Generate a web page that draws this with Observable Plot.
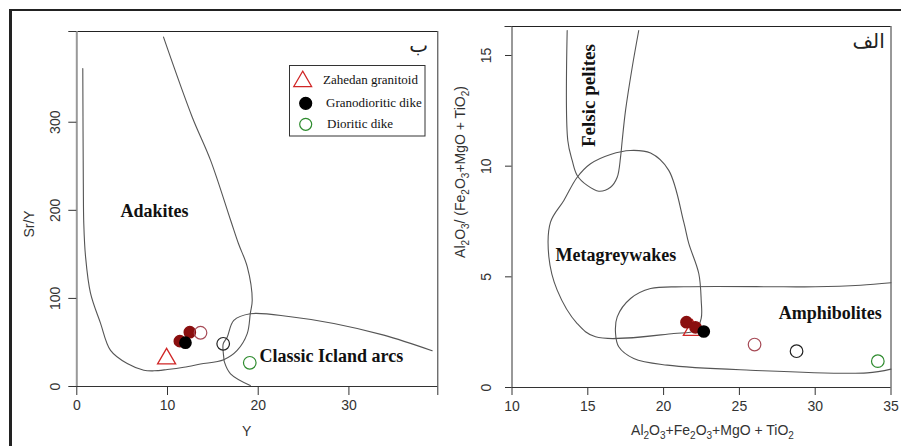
<!DOCTYPE html>
<html><head><meta charset="utf-8">
<script src="https://cdn.jsdelivr.net/npm/d3@7"></script>
<script src="https://cdn.jsdelivr.net/npm/@observablehq/plot@0.6"></script>
<style>
html,body{margin:0;padding:0;background:#fff;}
#fig{position:relative;width:901px;height:446px;overflow:hidden;background:#fff;}
#fig svg{position:absolute;top:0;}
#border{position:absolute;left:9px;top:9px;width:900px;height:445px;border-top:2px solid #222;border-left:3px solid #222;pointer-events:none;}
</style></head><body>
<div id="fig"><div id="border"></div></div>
<script>
// ---------- sample data ----------
const sampleNames = ["Zahedan granitoid","Granodioritic dike 1","Granodioritic dike 2","Granodioritic dike 3","Dioritic dike 1","Dioritic dike 2","Dioritic dike 3"];
const sampleY      = [9.9, 11.36, 12.46, 11.98, 13.64, 16.14, 19.07];      // Y (ppm)
const sampleSrY    = [31.5, 51.5, 61.7, 49.7, 61, 48.5, 26.9];             // Sr/Y
const sampleOxSum  = [21.9, 21.51, 22.10, 22.65, 26.0, 28.77, 34.13];      // Al2O3+Fe2O3+MgO+TiO2
const sampleAlRat  = [2.59, 2.95, 2.72, 2.53, 1.94, 1.64, 1.19];           // Al2O3/(Fe2O3+MgO+TiO2)

// ---------- field boundaries (data units) ----------
const adakiteField = [[9.56,396.6],[12.72,306],[14.74,257],[16.95,189],[17.83,162],[18.79,136],[19.34,98],[19.13,83],[18.79,60],[17.68,41],[16.2,30.5],[13.64,25.5],[11.8,21.9],[9.97,19.3],[8.5,17.8],[7.39,18.5],[5.56,26],[3.72,41],[2.61,72],[1.51,106],[0.96,148],[0.77,185],[0.72,230],[0.66,361]];
const islandArcField = [[19.13,1.1],[16.95,14.4],[16.28,27.6],[16.2,33.3],[16.14,48.5],[16.58,56],[17.31,75],[19.13,82.6],[23.57,79.2],[28.34,71.6],[33.85,58.3],[39.18,40.6]];
const felsicField = [[13.64,16.13],[13.68,11.16],[13.97,10.26],[14.30,9.58],[14.96,9.13],[15.73,8.87],[16.50,9.05],[16.94,9.50],[17.16,10.41],[17.27,11.16],[17.49,12.52],[17.93,14.47],[18.36,16.13]];
const greywackeField = [[12.54,7.47],[13.42,8.45],[14.30,9.50],[15.18,10.11],[16.50,10.53],[17.82,10.71],[19.14,10.59],[20.34,9.81],[21.33,7.47],[21.66,6.51],[22.32,5.15],[22.48,3.94],[22.48,3.12],[22.10,2.58],[20.67,2.44],[15.51,2.29],[14.30,2.89],[12.98,4.40],[12.43,5.91]];
const amphiboliteField = [[35.0,4.73],[32.99,4.62],[30.0,4.55],[27.93,4.55],[21.33,4.55],[19.14,4.47],[17.82,4.02],[16.94,3.19],[16.83,2.44],[17.04,1.84],[18.03,1.31],[20.24,1.01],[25.73,0.78],[33.43,0.66],[35.0,0.83]];

// ---------- labels ----------
const leftLabels = ["Adakites", "Classic Icland arcs"];
const leftLabelX = [4.82, 20.15];
const leftLabelY = [199, 34.4];
const leftPanelTag = ["ب"];
const rightLabels = ["Metagreywakes", "Amphibolites"];
const rightLabelX = [12.87, 27.6];
const rightLabelY = [5.98, 3.34];
const rotatedLabel = ["Felsic pelites"];
const rightPanelTag = ["الف"];
const legendNames = ["Zahedan granitoid", "Granodioritic dike", "Dioritic dike"];

const leftXTicks = [0, 10, 20, 30];
const leftYTicks = [0, 100, 200, 300];
const rightXTicks = [10, 15, 20, 25, 30, 35];
const rightYTicks = [0, 5, 10, 15];

// ---------- build ----------
const samples = sampleNames.map((name, i) => ({name, yv: sampleY[i], sry: sampleSrY[i], sum: sampleOxSum[i], rat: sampleAlRat[i]}));
const markerStyle = [
  {symbol: "triangle", fill: "none", stroke: "#d02626", r: 6.7, strokeWidth: 1.3},
  {symbol: "circle", fill: "#8a0f0f", stroke: "#8a0f0f", r: 5.6},
  {symbol: "circle", fill: "#8a0f0f", stroke: "#8a0f0f", r: 5.6},
  {symbol: "circle", fill: "#000", stroke: "#000", r: 5.6},
  {symbol: "circle", fill: "none", stroke: "#a64a56", r: 6.3, strokeWidth: 1.2},
  {symbol: "circle", fill: "none", stroke: "#222", r: 6.3, strokeWidth: 1.2},
  {symbol: "circle", fill: "none", stroke: "#2e8b2e", r: 6.3, strokeWidth: 1.2}
];
const serifBold = {fontFamily: "Liberation Serif, serif", fontWeight: "bold", fontSize: 18, fill: "#111"};
const lineStyle = {x: d => d[0], y: d => d[1], stroke: "#555", strokeWidth: 1.1, curve: "catmull-rom"};

const LX = [0, 39.8], LY = [0, 403];
const left = Plot.plot({
  width: 450, height: 446,
  marginLeft: 76.3, marginRight: 12.7, marginTop: 31, marginBottom: 60,
  x: {domain: LX}, y: {domain: LY},
  style: {background: "transparent", fontFamily: "Liberation Sans, Arial, sans-serif", fontSize: "14px", color: "#333", overflow: "visible"},
  marks: [
    Plot.ruleY([0], {stroke: "#333"}),
    Plot.ruleY([LY[1]], {stroke: "#222"}),
    Plot.ruleX([LX[1]], {stroke: "#333"}),
    Plot.ruleX([0], {stroke: "#999", strokeWidth: 2}),
    Plot.axisX({ticks: leftXTicks, tickSize: 9, tickPadding: 5, label: null, fontSize: 14}),
    Plot.axisX({ticks: [LX[1]], tickSize: 9, tickFormat: () => "", label: null}),
    Plot.axisY({ticks: leftYTicks, tickSize: 8, tickPadding: 9, tickRotate: -90, label: null, fontSize: 14}),
    Plot.axisY({ticks: [LY[1]], tickSize: 8, tickFormat: () => "", label: null}),
    Plot.line(adakiteField, lineStyle),
    Plot.line(islandArcField, lineStyle),
    Plot.text(leftLabels, {x: (d, i) => leftLabelX[i], y: (d, i) => leftLabelY[i], text: d => d, textAnchor: "start", ...serifBold}),
    Plot.text(leftPanelTag, {x: 37.7, y: 387.5, text: d => d, fontFamily: "DejaVu Sans", fontSize: 20, fill: "#222"}),
    ...samples.map((d, i) => Plot.dot([d], {x: "yv", y: "sry", ...markerStyle[i]}))
  ]
});

const RX = [10, 35], RY = [0, 16.31];
const right = Plot.plot({
  width: 451, height: 446,
  marginLeft: 61.5, marginRight: 10.5, marginTop: 26, marginBottom: 59,
  x: {domain: RX}, y: {domain: RY},
  style: {background: "transparent", fontFamily: "Liberation Sans, Arial, sans-serif", fontSize: "14px", color: "#333", overflow: "visible"},
  marks: [
    Plot.ruleY([0], {stroke: "#333"}),
    Plot.ruleY([RY[1]], {stroke: "#222"}),
    Plot.ruleX([RX[1]], {stroke: "#333"}),
    Plot.ruleX([RX[0]], {stroke: "#333"}),
    Plot.axisX({ticks: rightXTicks, tickSize: 8, tickPadding: 6, label: null, fontSize: 14}),
    Plot.axisY({ticks: rightYTicks, tickSize: 6.5, tickPadding: 15, tickRotate: -90, label: null, fontSize: 14}),
    Plot.axisY({ticks: [RY[1]], tickSize: 7, tickFormat: () => "", label: null}),
    Plot.line(felsicField, lineStyle),
    Plot.line(greywackeField, {...lineStyle, curve: "catmull-rom-closed"}),
    Plot.line(amphiboliteField, lineStyle),
    Plot.text(rightLabels, {x: (d, i) => rightLabelX[i], y: (d, i) => rightLabelY[i], text: d => d, textAnchor: "start", ...serifBold}),
    Plot.text(rotatedLabel, {x: 15.05, y: 13.19, text: d => d, rotate: -90, ...serifBold, fontSize: 19}),
    Plot.text(rightPanelTag, {x: 33.52, y: 15.63, text: d => d, fontFamily: "DejaVu Sans", fontSize: 20, fill: "#222"}),
    ...samples.map((d, i) => Plot.dot([d], {x: "sum", y: "rat", ...markerStyle[i]}))
  ]
});

const fig = document.getElementById("fig");
left.style.left = "0px";
right.style.left = "450px";
fig.insertBefore(left, fig.firstChild);
fig.insertBefore(right, fig.firstChild);

// ---------- axis titles (with subscripts) ----------
function richText(svg, x, y, rotate, parts, opts = {}) {
  const t = d3.select(svg).append("text")
    .attr("transform", `translate(${x},${y}) rotate(${rotate})`)
    .attr("text-anchor", opts.anchor || "middle")
    .attr("font-family", "Liberation Sans, Arial, sans-serif")
    .attr("font-size", opts.size || 14)
    .attr("fill", opts.fill || "#333");
  let shifted = false;
  for (const p of parts) {
    const sub = Array.isArray(p);
    const s = t.append("tspan").text(sub ? p[0] : p);
    if (sub) { s.attr("font-size", 10).attr("dy", shifted ? 0 : 4); shifted = true; }
    else { if (shifted) s.attr("dy", -4); shifted = false; }
  }
  return t;
}
richText(left, 34, 224, -90, ["Sr/Y"]);
richText(left, 246.7, 436, 0, ["Y"]);
richText(right, 15, 172, -90, ["Al", ["2"], "O", ["3"], "/ (Fe", ["2"], "O", ["3"], "+MgO + TiO", ["2"], ")"]);
richText(right, 262.5, 435, 0, ["Al", ["2"], "O", ["3"], "+Fe", ["2"], "O", ["3"], "+MgO + TiO", ["2"]]);

// ---------- legend ----------
const lg = d3.select(left).append("g").attr("text-anchor", "start");
lg.append("rect").attr("x", 289.5).attr("y", 65.5).attr("width", 135.5).attr("height", 70.5)
  .attr("fill", "#fff").attr("stroke", "#333").attr("stroke-width", 1);
const legendSym = [
  {type: d3.symbolTriangle, size: 140, fill: "none", stroke: "#d02626", cx: 302.7, cy: 81.5},
  {type: d3.symbolCircle, size: Math.PI * 36, fill: "#000", stroke: "#000", cx: 305.7, cy: 103.3},
  {type: d3.symbolCircle, size: Math.PI * 36, fill: "none", stroke: "#2e8b2e", cx: 305.7, cy: 124.3}
];
const legendTextX = [323, 326, 327];
const legendTextY = [80, 103, 124];
legendNames.forEach((name, i) => {
  const s = legendSym[i];
  lg.append("path").attr("d", d3.symbol(s.type, s.size)()).attr("transform", `translate(${s.cx},${s.cy})`)
    .attr("fill", s.fill).attr("stroke", s.stroke).attr("stroke-width", 1.2);
  lg.append("text").attr("x", legendTextX[i]).attr("y", legendTextY[i]).attr("dy", "0.32em")
    .attr("text-anchor", "start")
    .attr("font-family", "Liberation Serif, serif").attr("font-size", 13).attr("fill", "#111").text(name);
});
</script>
</body></html>
